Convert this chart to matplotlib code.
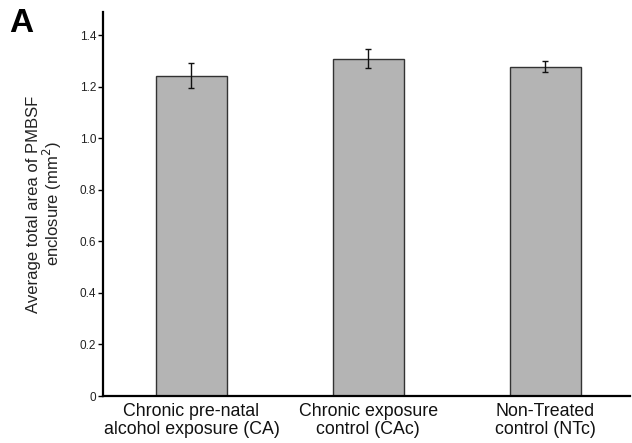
import matplotlib
matplotlib.use('Agg')
from matplotlib import pyplot as plt
import numpy as np

plt.rcParams['font.family'] = ['Liberation Sans', 'DejaVu Sans']

# data
groups = ['Chronic pre-natal\nalcohol exposure (CA)',
          'Chronic exposure\ncontrol (CAc)',
          'Non-Treated\ncontrol (NTc)']
means = [1.243, 1.309, 1.278]
errors = [0.048, 0.037, 0.020]
yticks = [0, 0.2, 0.4, 0.6, 0.8, 1.0, 1.2, 1.4]
yticklabels = ['0', '0.2', '0.4', '0.6', '0.8', '1.0', '1.2', '1.4']

fig = plt.figure(figsize=(6.32, 4.43), dpi=100)
ax = fig.add_axes([0.163, 0.106, 0.834, 0.867])

x = np.arange(len(groups))
ax.bar(x, means, width=0.4, color='#b4b4b4', edgecolor='#333333', linewidth=1.0)
ax.errorbar(x, means, yerr=errors, fmt='none', ecolor='#111111',
            elinewidth=1.0, capsize=2.5, capthick=1.0)

ax.set_xlim(-0.5, 2.48)
ax.set_ylim(0, 1.49)
ax.set_yticks(yticks)
ax.set_yticklabels(yticklabels, fontsize=8.5, color='#222222')
ax.set_xticks(x)
ax.set_xticklabels(groups, fontsize=12.8, linespacing=1.05, color='#111111')
ax.tick_params(axis='x', length=0, pad=5)
ax.tick_params(axis='y', length=3.5, width=1.0, pad=1.5)

for s in ['top', 'right']:
    ax.spines[s].set_visible(False)
for s in ['left', 'bottom']:
    ax.spines[s].set_linewidth(1.6)

ax.set_ylabel('Average total area of PMBSF\nenclosure (mm$^2$)', fontsize=12,
              labelpad=11, linespacing=1.0, color='#222222')

fig.text(0.014, 0.982, 'A', fontsize=24, fontweight='heavy', va='top', ha='left')

fig.savefig('out.png', dpi=100)
